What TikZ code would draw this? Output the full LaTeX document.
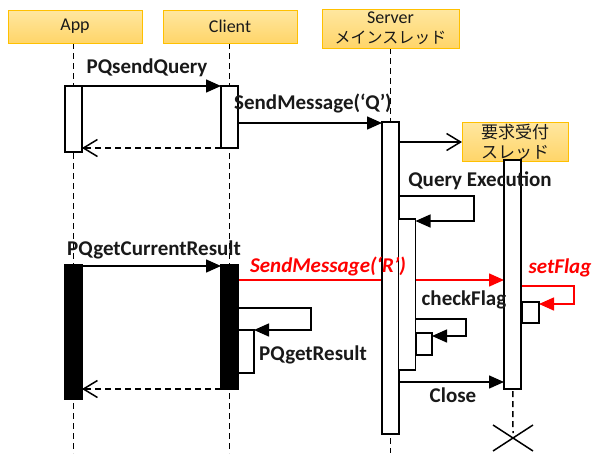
\documentclass[tikz,border=0pt]{standalone}
\usepackage{fontspec}
\setmainfont{Carlito}
\newfontfamily\jp{Noto Sans CJK JP}
\usetikzlibrary{arrows.meta}
\pgfdeclarelayer{bg}
\pgfsetlayers{bg,main}
\definecolor{hdrTop}{RGB}{255,231,160}
\definecolor{hdrBot}{RGB}{255,213,105}
\definecolor{hdrLine}{RGB}{255,192,0}
\definecolor{msgRed}{RGB}{255,0,0}
\definecolor{txt}{RGB}{25,25,25}
\begin{document}
\begin{tikzpicture}[x=1pt,y=-1pt,
 hdr/.style={draw=hdrLine, line width=0.8pt, top color=hdrTop, bottom color=hdrBot, inner sep=0pt, outer sep=0pt, align=center, font=\fontsize{18}{20}\selectfont, text=txt},
 bar/.style={draw, fill=white, line width=1.3pt, minimum width=17pt, inner sep=0pt, outer sep=0pt, anchor=north},
 blackbar/.style={bar, fill=black},
 life/.style={line width=1.5pt, dash pattern=on 6pt off 4pt},
 msg/.style={line width=1.5pt, -{Triangle[length=15pt,width=13pt]}},
 openmsg/.style={line width=1.5pt, -{Straight Barb[length=14pt,width=17pt]}},
 ret/.style={openmsg, dash pattern=on 6pt off 4pt},
 lbl/.style={font=\fontsize{21}{24}\selectfont\bfseries, inner sep=0pt, text=txt},
 redlbl/.style={font=\fontsize{21}{24}\selectfont\bfseries\itshape, inner sep=0pt, text=msgRed},
]
\useasboundingbox (0,0) rectangle (592,453);

% headers
\node[hdr, minimum width=134pt, minimum height=33pt] (app) at (75,26.5) {App};
\node[hdr, minimum width=134pt, minimum height=33pt] (cli) at (230,26.5) {Client};
\node[hdr, minimum width=137pt, minimum height=39pt] (srv) at (390.5,28.5) {Server\\{\jp\fontsize{16}{20}\selectfont メインスレッド}};
\node[hdr, minimum width=106pt, minimum height=39pt, font=\jp\fontsize{17}{20}\selectfont] (thr) at (515,141.5) {要求受付\\スレッド};

% activation bars
\node[bar, minimum height=66pt] (appA) at (73.5,86) {};
\node[bar, minimum height=62pt] (cliA) at (229.5,86) {};
\node[bar, minimum height=312pt] (srvA) at (390.5,122) {};
\node[bar, minimum height=151pt] (srvB) at (407,219) {};
\node[bar, minimum width=16pt, minimum height=22pt] (srvC) at (424,333) {};
\node[bar, minimum height=229pt] (thrA) at (512.5,160) {};
\node[bar, minimum height=21pt] (thrB) at (530.5,302) {};
\node[blackbar, minimum height=134pt] (appB) at (73.5,265) {};
\node[blackbar, minimum height=124pt] (cliB) at (229.5,265) {};
\node[bar, minimum width=16pt, minimum height=43pt] (cliC) at (246,330) {};

% bend points and lifeline ends
\coordinate (qeR) at (474,221);
\coordinate (sfR) at (574,304);
\coordinate (cfR) at (466,336);
\coordinate (grR) at (311,330);
\coordinate (thrEnd) at (513,433);
\coordinate (xc) at (513,438);

\begin{pgfonlayer}{bg}
% lifelines
\draw[life] (appA.north |- app.south) -- (appA.north |- 0,453);
\draw[life] (cliA.north |- cli.south) -- (cliA.north |- 0,453);
\draw[life] (srvA.north |- srv.south) -- (srvA.north |- 0,453);
\draw[life] (thrA.north |- thr.south) -- (thrEnd);

% messages
\draw[msg] (appA.east |- 0,86) -- (cliA.west |- 0,86);
\draw[ret] (cliA.west |- 0,148) -- (appA.east |- 0,148);
\draw[msg] (cliA.east |- 0,123) -- (srvA.west |- 0,123);
\draw[openmsg] (srvA.east |- 0,142) -- (thr.west |- 0,142);
\draw[msg] (srvA.east |- 0,196) -| (qeR) -- (srvB.east |- qeR);
\draw[msg] (appB.east |- 0,266) -- (cliB.west |- 0,266);
\draw[msg, msgRed] (cliB.east |- 0,280) -- (thrA.west |- 0,280);
\draw[msg, msgRed] (thrA.east |- 0,286) -| (sfR) -- (thrB.east |- sfR);
\draw[msg] (srvB.east |- 0,319) -| (cfR) -- (srvC.east |- cfR);
\draw[msg] (cliB.east |- 0,308) -| (grR) -- (cliC.east |- grR);
\draw[msg] (srvA.east |- 0,382) -- (thrA.west |- 0,382);
\draw[ret] (cliB.west |- 0,389) -- (appB.east |- 0,389);
\end{pgfonlayer}

% destruction mark
\draw[line width=1.5pt] (xc) +(-20,-13) -- +(20,13) (xc) +(20,-13) -- +(-20,13);

% labels
\node[lbl] (lPQs) at (147,68) {PQsendQuery};
\node[lbl] (lSMQ) at (313,103) {SendMessage(‘Q’)};
\node[lbl] (lQE) at (480,181) {Query Execution};
\node[lbl] (lPQc) at (154,250) {PQgetCurrentResult};
\node[redlbl] (lSMR) at (328,266) {SendMessage(‘R’)};
\node[redlbl] (lSF) at (560,268) {setFlag};
\node[lbl] (lCF) at (464,300) {checkFlag};
\node[lbl] (lPQg) at (313,355) {PQgetResult};
\node[lbl] (lCl) at (453,395) {Close};
\end{tikzpicture}
\end{document}
